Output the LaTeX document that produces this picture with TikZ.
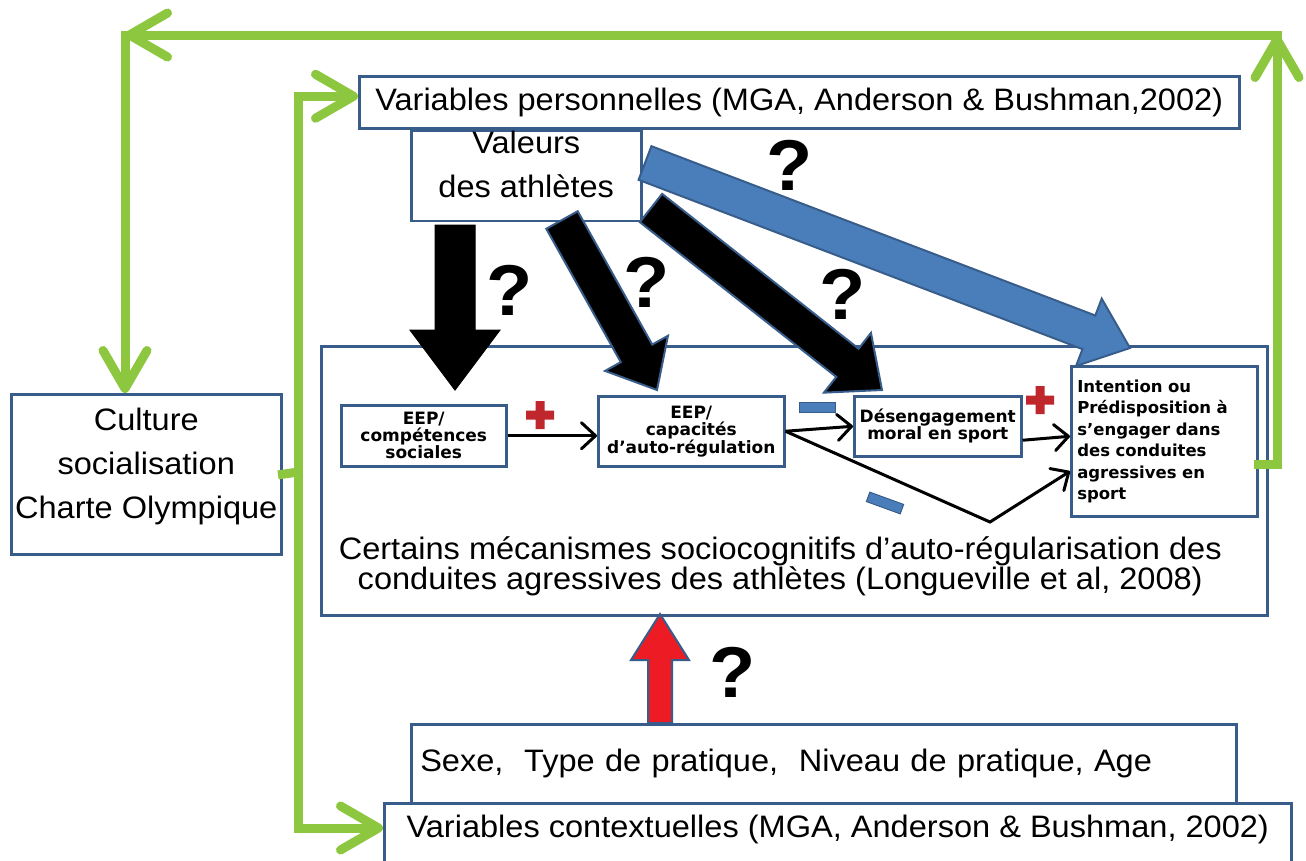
\documentclass[tikz,border=0pt]{standalone}
\usepackage{fontspec}
\setmainfont{Liberation Sans}[FakeStretch=1.05]
\newfontfamily\eepfont{DejaVu Sans}
\usetikzlibrary{arrows.meta,positioning,calc}

\definecolor{boxblue}{RGB}{56,93,138}
\definecolor{arrowblue}{RGB}{74,126,187}
\definecolor{linegreen}{RGB}{141,198,63}
\definecolor{arrowred}{RGB}{237,28,36}
\definecolor{plusred}{RGB}{192,39,45}

% fat block arrow: style, tail, tip, half shaft, half head, head length
\newcommand{\fatarrow}[6]{%
  \coordinate (fatneck) at ($(#3)!#6!(#2)$);
  \draw[#1] ($(#2)!#4!90:(#3)$) -- ($(fatneck)!#4!90:(#3)$) -- ($(fatneck)!#5!90:(#3)$) -- (#3)
    -- ($(fatneck)!#5!-90:(#3)$) -- ($(fatneck)!#4!-90:(#3)$) -- ($(#2)!#4!-90:(#3)$) -- cycle;}
\newcommand{\plusmark}[1]{%
  \fill[plusred] ($(#1)+(-14,-4.5)$) rectangle ($(#1)+(14,4.5)$)
                 ($(#1)+(-4.5,-14)$) rectangle ($(#1)+(4.5,14)$);}

\begin{document}
\begin{tikzpicture}[
    x = 1pt, y = -1pt, % slide pixels
    box/.style = {draw = boxblue, line width = 2.5pt, fill = white, inner sep = 0pt},
    bigtext/.style = {font = \fontsize{31}{44}\selectfont},
    eep/.style = {box, align = center, font = \eepfont\bfseries\fontsize{17}{17}\selectfont},
    qmark/.style = {font = \bfseries\fontsize{72}{72}\selectfont},
    link/.style = {draw = black, line width = 3pt, -{Straight Barb[length=14pt,width=26pt,round]}},
    green link/.style = {draw = linegreen, line width = 9pt, line cap = rect},
    gtip/.style = {-{Straight Barb[length=38pt,width=44pt,round]}}
    ]
    \useasboundingbox (0,0) rectangle (1306,860);

    \tikzset{minusbar/.style = {fill = arrowblue, draw = boxblue, line width = 1pt,
      minimum width = 36pt, minimum height = 10pt, inner sep = 0pt}}

    % boxes
    \node[box, bigtext, anchor = north west, minimum width = 880pt, minimum height = 52pt]
      (vperso) at (358,75) {Variables personnelles (MGA, Anderson \& Bushman,2002)};
    \node[box, bigtext, align = center, minimum width = 230pt, minimum height = 88pt, text depth = 24pt,
      below right = 0pt and 52pt of vperso.south west] (val) {Valeurs\\des athlètes};
    \node[box, bigtext, align = center, anchor = north west, minimum width = 270pt,
      minimum height = 160pt, text depth = 21pt] (cult) at (10,393) {Culture\\socialisation\\Charte Olympique};
    \node[box, anchor = north west, minimum width = 946pt, minimum height = 269pt]
      (mech) at (320,345) {};
    \node[bigtext, align = center, font = \fontsize{31}{28}\selectfont, above = 17pt of mech.south,
      xshift = -14pt] (mechtxt)
      {Certains mécanismes sociocognitifs d’auto-régularisation des\\conduites agressives des athlètes (Longueville et al, 2008)};

    \node[eep, anchor = north west, minimum width = 165pt, minimum height = 61pt]
      (eep1) at (340,404) {EEP/\\compétences\\sociales};
    \node[eep, anchor = north west, minimum width = 186pt, minimum height = 70pt]
      (eep2) at (597,395) {EEP/\\capacités\\d’auto-régulation};
    \node[eep, anchor = north west, minimum width = 167pt, minimum height = 60pt]
      (dmor) at (853,395) {Désengagement\\moral en sport};
    \node[box, anchor = north west, align = left, text width = 174pt, inner xsep = 6pt,
      minimum height = 150pt, font = \eepfont\bfseries\fontsize{16.5}{21.5}\selectfont]
      (inten) at (1070,365) {Intention ou\\Prédisposition à\\s’engager dans\\des conduites\\agressives en\\sport};

    \node[box, bigtext, anchor = north west, align = left, text width = 807pt, inner xsep = 9pt,
      minimum height = 79pt] (sexe) at (410,723) {Sexe,\ \ Type de pratique,\ \ Niveau de pratique, Age};
    \node[box, bigtext, anchor = north west, minimum width = 907pt, inner ysep = 4pt,
      text height = 30pt, text depth = 40pt] (vctx) at (383,802)
      {Variables contextuelles (MGA, Anderson \& Bushman, 2002)};

    % fat arrows
    \coordinate (a1s) at (455,225); \coordinate (a1e) at (455,390);
    \coordinate (a2s) at (562,220); \coordinate (a2e) at (657,390);
    \coordinate (a3s) at (651,208); \coordinate (a3e) at (882,390);
    \coordinate (a4s) at (645,163); \coordinate (a4e) at (1130,348);
    \coordinate (a5s) at (660,723); \coordinate (a5e) at (660,614);
    \fatarrow{fill = black, draw = black, line width = 1pt}{a1s}{a1e}{20pt}{45pt}{60pt}
    \fatarrow{fill = black, draw = boxblue, line width = 2pt}{a2s}{a2e}{18pt}{36pt}{42pt}
    \fatarrow{fill = black, draw = boxblue, line width = 2pt}{a3s}{a3e}{18pt}{38pt}{44pt}
    \fatarrow{fill = arrowblue, draw = boxblue, line width = 2pt}{a4s}{a4e}{18pt}{36pt}{44pt}
    \fatarrow{fill = arrowred, draw = boxblue, line width = 2pt}{a5s}{a5e}{12pt}{29pt}{46pt}

    \node[qmark] (q1) at (510,290) {?};
    \node[qmark] (q2) at (647,282) {?};
    \node[qmark] (q3) at (843,294) {?};
    \node[qmark] (q4) at (790,165) {?};
    \node[qmark] (q5) at (733,672) {?};

    % small links
    \coordinate (kink) at (990,522);
    \draw[link] (eep1.east) -- (eep1.east -| eep2.west);
    \draw[link] (eep2.east) -- (dmor.west);
    \draw[link] (eep2.east) -- (kink) -- ($(inten.west)+(0,30)$);
    \draw[link] ($(dmor.east)+(0,14)$) -- ($(inten.west)+(0,-5)$);

    \coordinate (pl1) at (540,415); \coordinate (pl2) at (1040,400);
    \plusmark{pl1}
    \plusmark{pl2}
    \node[minusbar] (mn1) at (817,407) {};
    \node[minusbar, rotate = -20] (mn2) at (885,503) {};

    % green loop
    \coordinate (tr) at (1277,35);
    \coordinate (tl) at (125,35);
    \coordinate (lb) at (298,472);
    \draw[green link, gtip] ($(inten.east)+(0,23)$) -| (tr);
    \draw[green link, gtip] (tr) -- (tl);
    \draw[green link, gtip] (tl) -- (tl |- cult.north);
    \draw[green link] (cult.east) -- (lb);
    \draw[green link, gtip] (lb) |- ($(vperso.west)+(0,-6)$);
    \draw[green link, gtip] (lb) |- ($(vctx.north west)+(0,26)$);
\end{tikzpicture}
\end{document}
